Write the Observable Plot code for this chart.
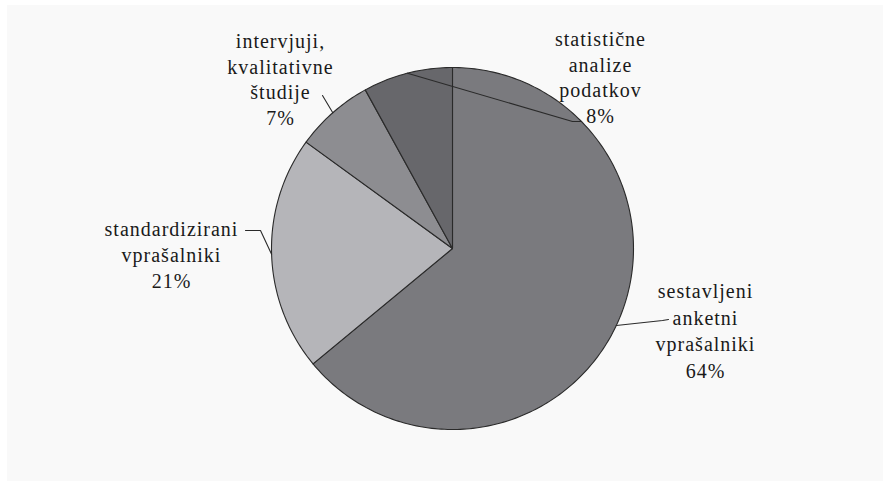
<!DOCTYPE html>
<html>
<head>
<meta charset="utf-8">
<script src="https://cdn.jsdelivr.net/npm/d3@7"></script>
<script src="https://cdn.jsdelivr.net/npm/@observablehq/plot@0.6"></script>
<style>
  html, body { margin: 0; padding: 0; background: #ffffff; }
  #chart { position: absolute; left: 7px; top: 5px; }
  #chart svg { background: #f9f9f9; display: block; }
</style>
</head>
<body>
<div id="chart"></div>
<script>
// ---- data ----
const categories = [
  "sestavljeni anketni vprašalniki",
  "standardizirani vprašalniki",
  "intervjuji, kvalitativne študije",
  "statistične analize podatkov"
];
const values = [64, 21, 7, 8];
const labelLines = [
  ["sestavljeni", "anketni", "vprašalniki", "64%"],
  ["standardizirani", "vprašalniki", "21%"],
  ["intervjuji,", "kvalitativne", "študije", "7%"],
  ["statistične", "analize", "podatkov", "8%"]
];

// ---- styles / layout ----
const colors = ["#7a7a7e", "#b5b5b9", "#8d8d91", "#67676b"];
const pie = {cx: 452, cy: 248, r: 181};
// label layout: text centre x, first baseline y, line spacing, leader elbow + end
const labelLayout = [
  {x: 705, y: 292, lh: 26.5, leader: [[662, 320], [668, 319]]},
  {x: 171, y: 230, lh: 26, leader: [[260, 230], [245, 230]]},
  {x: 280, y: 42, lh: 25.5, leader: [[322, 95]]},
  {x: 600, y: 40, lh: 25.5, leader: [[572, 121], [581, 121]]}
];
const fontSize = 20;
const fontFamily = "Liberation Serif";

// ---- geometry through d3.pie ----
const arcs = d3.pie().sort(null).startAngle(0).endAngle(2 * Math.PI)(values);
const pt = (a, r) => [pie.cx + r * Math.sin(a), pie.cy - r * Math.cos(a)];

const slicePts = [];
arcs.forEach((a, i) => {
  slicePts.push({k: i, x: pie.cx, y: pie.cy});
  const n = Math.max(4, Math.ceil((a.endAngle - a.startAngle) / (Math.PI / 180)));
  for (let j = 0; j <= n; j++) {
    const ang = a.startAngle + (a.endAngle - a.startAngle) * j / n;
    const [x, y] = pt(ang, pie.r);
    slicePts.push({k: i, x, y});
  }
});

const leaderPts = [];
arcs.forEach((a, i) => {
  const mid = (a.startAngle + a.endAngle) / 2;
  const [x, y] = pt(mid, pie.r);
  leaderPts.push({k: i, x, y});
  labelLayout[i].leader.forEach(([lx, ly]) => leaderPts.push({k: i, x: lx, y: ly}));
});

const labels = [];
labelLines.forEach((lines, i) => {
  const L = labelLayout[i];
  lines.forEach((t, j) => labels.push({t, x: L.x, y: L.y + j * L.lh}));
});

const W = 876, H = 476;
const chart = Plot.plot({
  width: W,
  height: H,
  margin: 0,
  style: {background: "#f9f9f9"},
  x: {domain: [7, 7 + W], range: [0, W], axis: null},
  y: {domain: [5, 5 + H], range: [0, H], axis: null},
  marks: [
    Plot.line(slicePts, {
      x: "x", y: "y", z: "k",
      curve: "linear-closed",
      fill: d => colors[d.k],
      stroke: "#2a2a2a",
      strokeWidth: 1.1,
      strokeLinejoin: "round"
    }),
    Plot.line(leaderPts, {
      x: "x", y: "y", z: "k",
      stroke: "#2a2a2a",
      strokeWidth: 1.1
    }),
    Plot.text(labels, {
      x: "x", y: "y", text: "t",
      textAnchor: "middle",
      lineAnchor: "bottom",
      dy: 0.29 * fontSize,
      fontSize: fontSize,
      fontFamily: fontFamily,
      fill: "#1a1a1a"
    })
  ]
});
chart.setAttribute("font-family", fontFamily);
chart.querySelectorAll("g").forEach(g => { if (g.getAttribute("font-family")) g.setAttribute("font-family", fontFamily); });
chart.querySelectorAll("text").forEach(t => {
  t.setAttribute("font-family", fontFamily);
  t.setAttribute("letter-spacing", "1");
  t.setAttribute("font-size", String(fontSize));
});
document.getElementById("chart").appendChild(chart);
</script>
</body>
</html>
